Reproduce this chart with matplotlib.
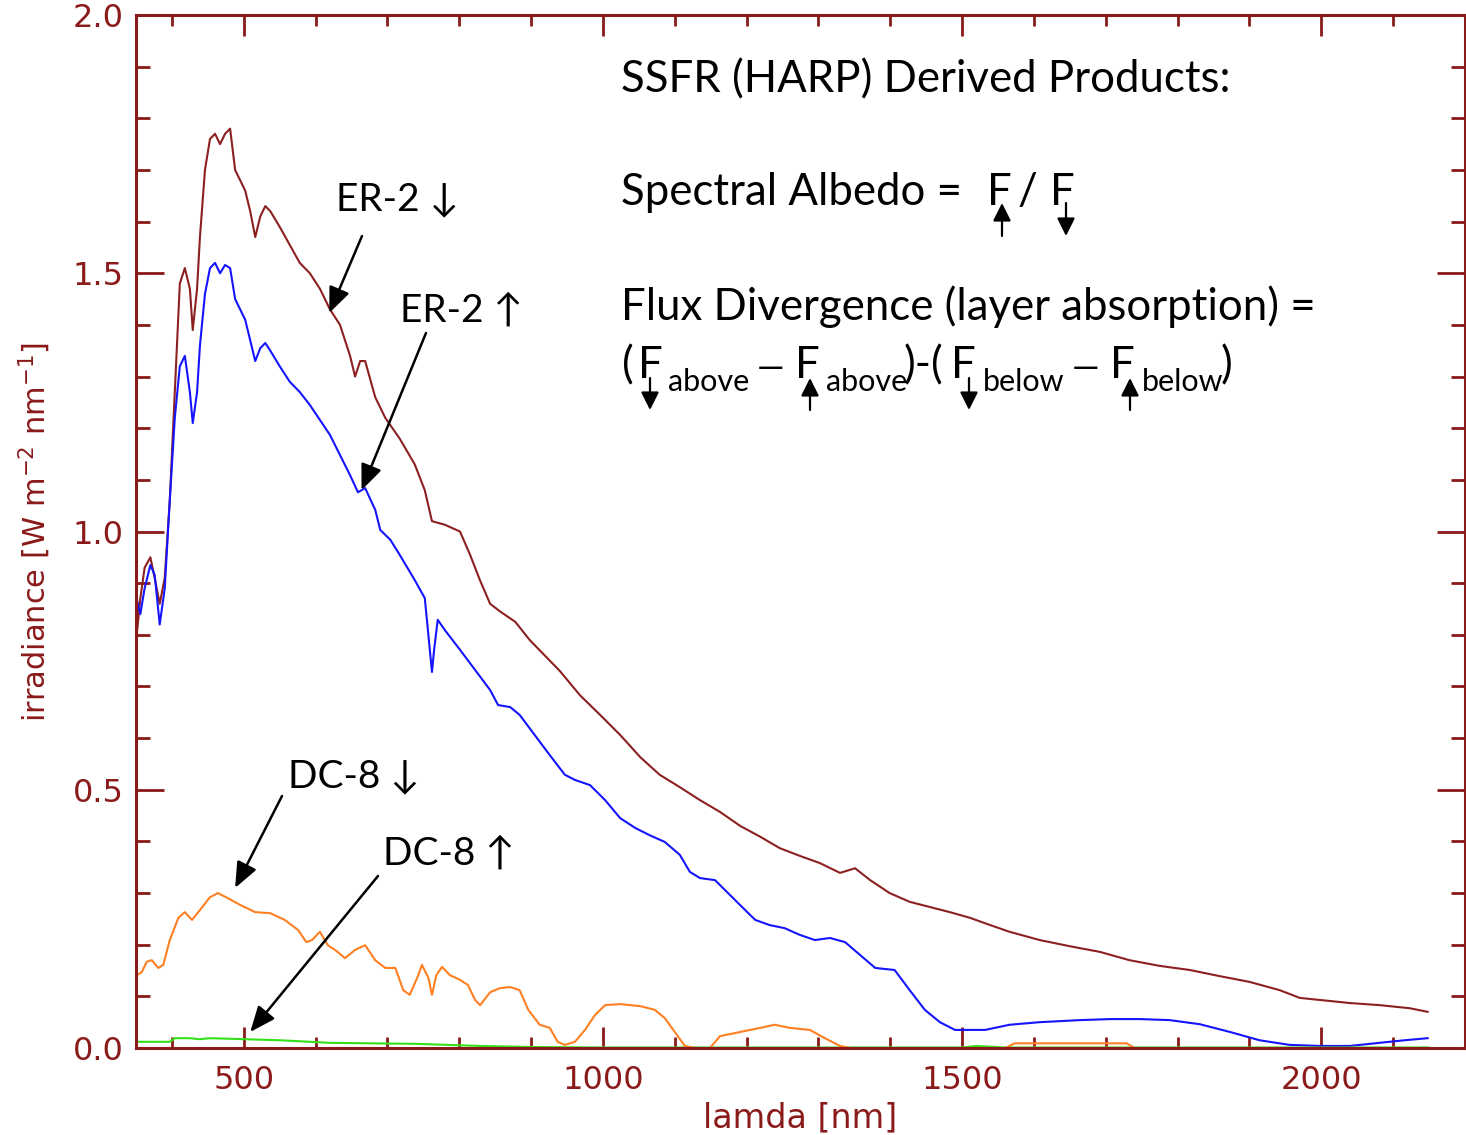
import matplotlib
matplotlib.use("Agg")
import matplotlib.pyplot as plt
from matplotlib.ticker import MultipleLocator

# ER-2 downwelling irradiance (W m-2 nm-1) vs wavelength (nm)
er2_dn_nm = [351, 356, 362, 370, 376, 383, 390, 397, 404, 411, 418, 425, 429, 435,
             439, 446, 453, 460, 467, 474, 481, 488, 495, 502, 509, 516, 523, 530,
             537, 550, 564, 578, 592, 606, 620, 634, 648, 655, 662, 669, 683, 697,
             717, 738, 752, 762, 780, 801, 815, 829, 843, 857, 878, 898, 919, 940,
             968, 996, 1024, 1052, 1079, 1107, 1135, 1163, 1191, 1219, 1246, 1274,
             1302, 1330, 1351, 1372, 1399, 1427, 1455, 1483, 1511, 1539, 1566, 1608,
             1650, 1692, 1733, 1775, 1817, 1859, 1900, 1942, 1970, 1998, 2040, 2081,
             2123, 2148]
er2_dn = [0.80, 0.87, 0.93, 0.95, 0.91, 0.86, 0.91, 1.06, 1.27, 1.48, 1.51, 1.47, 1.39, 1.47,
          1.57, 1.70, 1.76, 1.77, 1.75, 1.77, 1.78, 1.70, 1.68, 1.66, 1.62, 1.57, 1.61, 1.63,
          1.62, 1.59, 1.555, 1.52, 1.50, 1.47, 1.43, 1.40, 1.34, 1.30, 1.33, 1.33, 1.26, 1.22,
          1.18, 1.13, 1.08, 1.02, 1.013, 1.00, 0.955, 0.905, 0.86, 0.845, 0.825, 0.79, 0.76, 0.73,
          0.683, 0.645, 0.606, 0.563, 0.529, 0.505, 0.48, 0.457, 0.43, 0.409, 0.387, 0.372,
          0.358, 0.339, 0.348, 0.325, 0.30, 0.283, 0.273, 0.263, 0.252, 0.238, 0.225, 0.209,
          0.197, 0.186, 0.170, 0.159, 0.151, 0.139, 0.128, 0.112, 0.097, 0.093, 0.087, 0.083,
          0.077, 0.070]

# ER-2 upwelling irradiance
er2_up_nm = [351, 356, 362, 370, 376, 383, 390, 397, 404, 411, 418, 425, 429, 435,
             439, 446, 453, 460, 467, 474, 481, 488, 495, 502, 516, 523, 530, 537,
             550, 564, 578, 592, 606, 620, 634, 648, 659, 669, 683, 690, 704, 717,
             738, 752, 759, 762, 765, 770, 780, 801, 822, 843, 854, 871, 884, 905,
             926, 947, 961, 982, 1003, 1024, 1045, 1065, 1086, 1107, 1121, 1135, 1156,
             1177, 1198, 1212, 1232, 1253, 1274, 1295, 1316, 1337, 1358, 1379, 1406,
             1427, 1448, 1469, 1490, 1511, 1532, 1566, 1608, 1664, 1706, 1747, 1789,
             1831, 1873, 1914, 1956, 1998, 2040, 2081, 2116, 2148]
er2_up = [0.87, 0.84, 0.89, 0.935, 0.916, 0.82, 0.89, 1.06, 1.22, 1.32, 1.34, 1.27, 1.21, 1.27,
          1.36, 1.46, 1.51, 1.52, 1.50, 1.516, 1.51, 1.45, 1.43, 1.41, 1.33, 1.355, 1.365, 1.35,
          1.32, 1.29, 1.27, 1.245, 1.216, 1.187, 1.148, 1.109, 1.076, 1.084, 1.042, 1.003, 0.984, 0.955,
          0.906, 0.871, 0.771, 0.728, 0.771, 0.829, 0.809, 0.771, 0.732, 0.693, 0.664, 0.66, 0.645, 0.606,
          0.567, 0.529, 0.519, 0.509, 0.48, 0.445, 0.426, 0.412, 0.399, 0.374, 0.341, 0.329, 0.325,
          0.296, 0.267, 0.248, 0.238, 0.232, 0.219, 0.209, 0.213, 0.205, 0.180, 0.155, 0.151,
          0.112, 0.074, 0.050, 0.035, 0.035, 0.035, 0.045, 0.050, 0.054, 0.056, 0.056, 0.054,
          0.046, 0.031, 0.015, 0.006, 0.004, 0.004, 0.010, 0.015, 0.019]

# DC-8 downwelling irradiance
dc8_dn_nm = [351, 358, 365, 372, 381, 388, 397, 409, 418, 428, 439, 453, 464, 478,
             495, 516, 537, 557, 576, 587, 595, 606, 617, 627, 641, 655, 669, 683,
             697, 711, 722, 731, 743, 748, 757, 762, 768, 776, 787, 801, 812, 822,
             829, 843, 857, 871, 884, 896, 912, 926, 937, 947, 961, 975, 989, 1003,
             1024, 1052, 1072, 1086, 1100, 1114, 1128, 1149, 1163, 1191, 1219, 1239,
             1260, 1288, 1309, 1330, 1344, 1500, 1560, 1573, 1729, 1740, 1800, 2150]
dc8_dn = [0.141, 0.147, 0.167, 0.170, 0.155, 0.161, 0.209, 0.252, 0.263, 0.248, 0.267, 0.292,
          0.300, 0.290, 0.277, 0.263, 0.261, 0.248, 0.228, 0.205, 0.209, 0.225, 0.199, 0.190,
          0.174, 0.190, 0.199, 0.170, 0.155, 0.155, 0.112, 0.103, 0.141, 0.161, 0.136, 0.103,
          0.141, 0.157, 0.141, 0.132, 0.122, 0.093, 0.083, 0.108, 0.116, 0.118, 0.112, 0.074,
          0.045, 0.039, 0.012, 0.006, 0.012, 0.035, 0.064, 0.083, 0.085, 0.081, 0.074, 0.058,
          0.031, 0.004, 0.0, 0.0, 0.023, 0.031, 0.039, 0.045, 0.039, 0.035, 0.019, 0.004, 0.0,
          0.0, 0.0, 0.009, 0.009, 0.0, 0.0, 0.0]

# DC-8 upwelling irradiance
dc8_up_nm = [351, 397, 404, 425, 439, 453, 550, 620, 741, 829, 898, 1000, 1500, 1520,
             1560, 2150]
dc8_up = [0.012, 0.012, 0.019, 0.019, 0.017, 0.019, 0.015, 0.010, 0.008, 0.004, 0.002,
          0.001, 0.001, 0.004, 0.001, 0.001]

AXC = "#8b1a1a"
W, H = 1466, 1135
TXT = ["Lato", "DejaVu Sans"]

fig = plt.figure(figsize=(W / 100, H / 100), dpi=100)
ax = fig.add_axes([136 / W, 87 / H, 1329 / W, 1033 / H])

ax.plot(er2_dn_nm, er2_dn, color="#8c2020", lw=1.5)
ax.plot(er2_up_nm, er2_up, color="#1414ff", lw=1.5)
ax.plot(dc8_up_nm, dc8_up, color="#33e01a", lw=1.5)
ax.plot(dc8_dn_nm, dc8_dn, color="#ff8022", lw=1.5)

ax.set_xlim(350, 2200)
ax.set_ylim(0, 2.0)
ax.xaxis.set_major_locator(MultipleLocator(500))
ax.xaxis.set_minor_locator(MultipleLocator(100))
ax.yaxis.set_major_locator(MultipleLocator(0.5))
ax.yaxis.set_minor_locator(MultipleLocator(0.1))
ax.yaxis.set_major_formatter(plt.FormatStrFormatter("%.1f"))

for s in ax.spines.values():
    s.set_color(AXC)
    s.set_linewidth(2.2)
ax.tick_params(which="both", direction="in", top=True, right=True, color=AXC,
               labelcolor=AXC, width=2.0, labelsize=23)
ax.tick_params(axis="y", which="major", length=20, pad=9)
ax.tick_params(axis="y", which="minor", length=10)
ax.tick_params(axis="x", which="major", length=15, pad=12)
ax.tick_params(axis="x", which="minor", length=8)

ax.set_xlabel("lamda [nm]", color=AXC, fontsize=24, labelpad=4)
ax.set_ylabel(r"irradiance [W m$^{-2}$ nm$^{-1}$]", color=AXC, fontsize=22, labelpad=14)


def put(x, y, s, size=31.5):
    # x, y in pixels from the top-left corner, y is the text baseline
    fig.text(x / W, 1 - y / H, s, fontsize=size, family=TXT, color="black",
             va="baseline", ha="left")


def small_arrow(x, y0, y1):
    ax.annotate("", xy=(x, H - y1), xycoords="figure pixels",
                xytext=(x, H - y0), textcoords="figure pixels",
                arrowprops=dict(arrowstyle="-|>,head_length=0.6,head_width=0.3",
                                mutation_scale=18, color="black", lw=1.6,
                                shrinkA=0, shrinkB=0))


def label_arrow(tail, tip):
    ax.annotate("", xy=tip, xycoords="data",
                xytext=(tail[0], H - tail[1]), textcoords="figure pixels",
                arrowprops=dict(arrowstyle="-|>,head_length=0.6,head_width=0.25",
                                mutation_scale=26, color="black", lw=1.8,
                                shrinkA=0, shrinkB=0))


# formula block
put(621, 92, "SSFR (HARP) Derived Products:")
put(621, 205, "Spectral Albedo =")
put(987, 205, "F")
put(1018, 205, "/")
put(1050, 205, "F")
small_arrow(1002, 236, 203)
small_arrow(1066, 203, 236)

put(621, 320, "Flux Divergence (layer absorption) =")
put(622, 378, "(")
put(638, 378, "F")
put(668, 391, "above", 22)
put(757, 378, "\u2014", 25)
put(795, 378, "F")
put(826, 391, "above", 22)
put(904, 378, ")-(")
put(951, 378, "F")
put(983, 391, "below", 22)
put(1072, 378, "\u2014", 25)
put(1110, 378, "F")
put(1142, 391, "below", 22)
put(1221, 378, ")")
small_arrow(650, 378, 410)
small_arrow(810, 410, 378)
small_arrow(969, 378, 410)
small_arrow(1130, 410, 378)

# curve labels
put(336, 210, "ER-2 \u2193", 28)
put(400, 322, "ER-2 \u2191", 28)
put(288, 787, "DC-8 \u2193", 28)
put(383, 865, "DC-8 \u2191", 28)
label_arrow((362, 236), (619, 1.423))
label_arrow((426, 333), (664, 1.080))
label_arrow((282, 796), (488, 0.310))
label_arrow((378, 876), (509, 0.031))

fig.savefig("out.png", dpi=100)
